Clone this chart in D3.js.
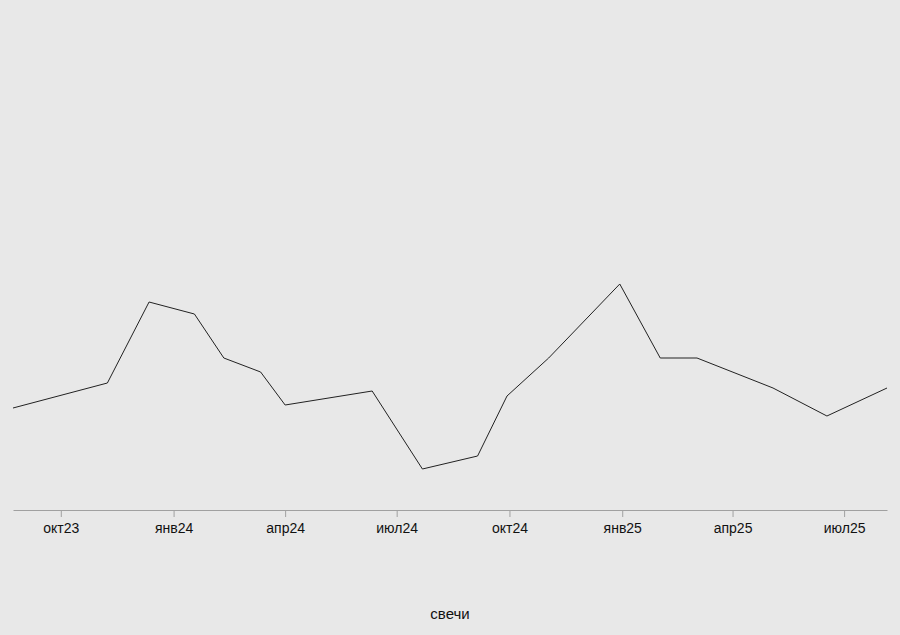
<!DOCTYPE html>
<html>
<head>
<meta charset="utf-8">
<script src="https://cdn.jsdelivr.net/npm/d3@7"></script>
<style>
    html, body { margin: 0; padding: 0; background: #e8e8e8; }
    svg { display: block; font-family: "Liberation Sans", Arial, sans-serif; }
</style>
</head>
<body>
<div id="chart"></div>
<script>
const dates = [
    '2023-08-23', '2023-11-08', '2023-12-12', '2024-01-18', '2024-02-11',
    '2024-03-12', '2024-04-01', '2024-06-11', '2024-07-22', '2024-09-05',
    '2024-09-29', '2024-11-02', '2024-12-30', '2025-02-01', '2025-03-03',
    '2025-05-04', '2025-06-17', '2025-08-05'
];
const values = [
    20.4, 25.4, 41.6, 39.2, 30.4,
    27.6, 21.0, 23.8, 8.2, 10.8,
    22.8, 30.4, 45.2, 30.4, 30.4,
    24.4, 18.8, 24.4
];
const tickDates = ['2023-10-01', '2024-01-01', '2024-04-01', '2024-07-01', '2024-10-01', '2025-01-01', '2025-04-01', '2025-07-01'];
const tickLabels = ['окт23', 'янв24', 'апр24', 'июл24', 'окт24', 'янв25', 'апр25', 'июл25'];
const xLabel = 'свечи';

const width = 900;
const height = 635;
const margin = { top: 10, right: 13, bottom: 125, left: 13 };

const parse = d3.timeParse('%Y-%m-%d');
const data = dates.map((d, i) => ({ date: parse(d), val: values[i] }));

const svg = d3.select('#chart')
    .append('svg')
    .attr('width', width)
    .attr('height', height);

svg.append('rect')
    .attr('width', width)
    .attr('height', height)
    .attr('fill', '#e8e8e8');

const x = d3.scaleUtc()
    .domain(d3.extent(data, d => d.date))
    .range([margin.left, width - margin.right]);

const y = d3.scaleLinear()
    .domain([0, 100])
    .range([height - margin.bottom, margin.top]);

// x axis
const xAxis = svg.append('g')
    .attr('transform', `translate(0,${height - margin.bottom})`)
    .call(d3.axisBottom(x)
        .tickValues(tickDates.map(parse))
        .tickFormat((d, i) => tickLabels[i])
        .tickSize(7)
        .tickSizeOuter(0));

xAxis.select('.domain').attr('stroke', '#a0a0a0');
xAxis.selectAll('.tick line').attr('stroke', '#a0a0a0');
xAxis.selectAll('.tick text')
    .attr('fill', '#111')
    .attr('font-size', 14)
    .attr('dy', '0.95em');

// line
svg.append('path')
    .datum(data)
    .attr('fill', 'none')
    .attr('stroke', '#222')
    .attr('stroke-width', 1)
    .attr('d', d3.line().x(d => x(d.date)).y(d => y(d.val)));

svg.append('text')
    .attr('x', (margin.left + width - margin.right) / 2)
    .attr('y', 619)
    .attr('text-anchor', 'middle')
    .attr('font-size', 15)
    .attr('fill', '#111')
    .text(xLabel);
</script>
</body>
</html>
